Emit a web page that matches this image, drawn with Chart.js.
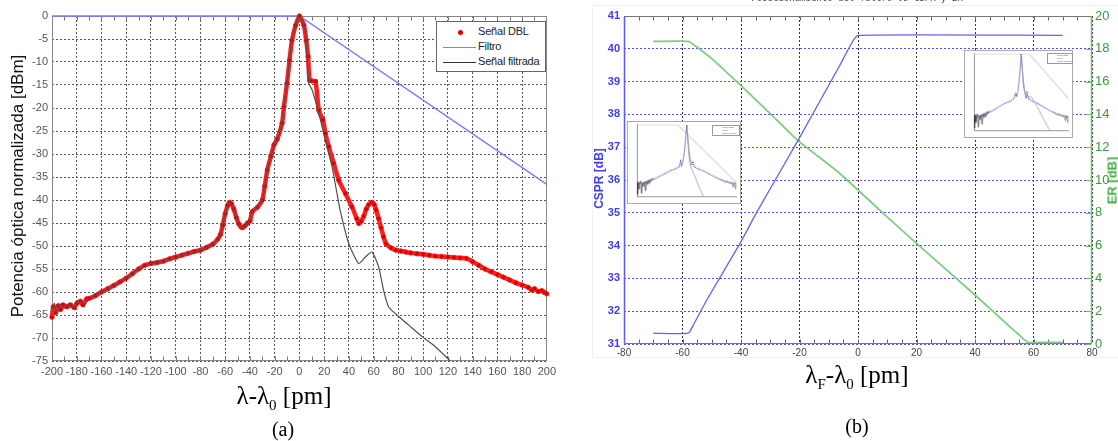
<!DOCTYPE html>
<html>
<head>
<meta charset="utf-8">
<script src="https://cdn.jsdelivr.net/npm/chart.js@4.4.1/dist/chart.umd.min.js"></script>
<style>
  body { margin: 0; width: 1118px; height: 441px; overflow: hidden; position: relative; background: #fff; font-family: Arial, "Liberation Sans", sans-serif; }
  .abs { position: absolute; }
  .serif { font-family: "Times New Roman", "Liberation Serif", serif; color: #000; white-space: nowrap; }
  .legA { left: 436px; top: 21px; width: 108px; height: 49px; border: 1px solid #666; background: #fff; font-size: 11px; color: #222; }
  .legA div { position: absolute; left: 41px; white-space: nowrap; letter-spacing: -0.2px; }
  .mini { border: 1px solid #aaa; background: #fff; }
  .miniLeg { border: 1px solid #999; background: #fff; overflow: hidden; }
  .miniLeg span { display: block; font-size: 7px; line-height: 8px; transform: scale(0.35); transform-origin: 0 0; white-space: nowrap; color: #555; margin-left: 9px; height: 3px; }
</style>
</head>
<body>
<canvas id="chartA" class="abs" style="left:0;top:0" width="560" height="385"></canvas>
<div class="abs" style="left:592px;top:5px;width:525px;height:351px;border:1px solid #f0f0f0;"></div>
<canvas id="chartB" class="abs" style="left:570px;top:0" width="548" height="365"></canvas>
<canvas id="inset1" class="abs mini" style="left:627px;top:121px" width="114" height="83"></canvas>
<canvas id="inset2" class="abs mini" style="left:964px;top:50px" width="109" height="88"></canvas>

<div class="abs miniLeg" style="left:712px;top:125px;width:26px;height:9px;"><span>Señal DBL</span><span>Filtro</span><span>Señal filtrada</span></div>
<div class="abs miniLeg" style="left:1047px;top:53px;width:24px;height:9px;"><span>Señal DBL</span><span>Filtro</span><span>Señal filtrada</span></div>

<div class="abs legA">
  <span class="abs" style="left:21px;top:8px;width:5px;height:5px;border-radius:50%;background:#e00000;"></span>
  <div style="top:3px;">Señal DBL</div>
  <span class="abs" style="left:6px;top:25px;width:33px;height:1px;background:#8080ff;"></span>
  <div style="top:18px;">Filtro</div>
  <span class="abs" style="left:6px;top:40px;width:33px;height:1px;background:#333;"></span>
  <div style="top:33px;">Señal filtrada</div>
</div>

<div class="abs" style="left:-182px;top:177px;width:400px;text-align:center;font-size:17px;line-height:18px;color:#111;transform:rotate(-90deg);">Potencia óptica normalizada [dBm]</div>
<div class="abs serif" style="left:184px;top:383px;width:200px;text-align:center;font-size:25px;line-height:26px;">λ-λ<sub style="font-size:15px;">0</sub> [pm]</div>
<div class="abs serif" style="left:233px;top:419px;width:100px;text-align:center;font-size:20px;line-height:21px;">(a)</div>

<div class="abs" style="left:732px;top:-7px;width:250px;text-align:center;font-family:'DejaVu Sans Mono',monospace;font-size:9px;color:#444;white-space:nowrap;">Posicionamiento del filtro vs CSPR y ER</div>
<div class="abs" style="left:549px;top:172px;width:100px;text-align:center;font-size:12px;font-weight:bold;line-height:13px;color:#4040f0;transform:rotate(-90deg);">CSPR [dB]</div>
<div class="abs" style="left:1062px;top:174px;width:100px;text-align:center;font-size:13px;font-weight:bold;line-height:13px;color:#3fa83f;transform:rotate(-90deg);">ER [dB]</div>
<div class="abs serif" style="left:737px;top:362px;width:240px;text-align:center;font-size:25px;line-height:26px;">λ<sub style="font-size:15px;">F</sub>-λ<sub style="font-size:15px;">0</sub> [pm]</div>
<div class="abs serif" style="left:807px;top:416px;width:100px;text-align:center;font-size:20px;line-height:21px;">(b)</div>

<script>
// ---- panel (a): espectro DBL ----
const xTicksA = [-200, -180, -160, -140, -120, -100, -80, -60, -40, -20, 0, 20, 40, 60, 80, 100, 120, 140, 160, 180, 200];
const yTicksA = [-75, -70, -65, -60, -55, -50, -45, -40, -35, -30, -25, -20, -15, -10, -5, 0];

const dblX = [-200, -199, -197, -195, -193, -191, -188, -185, -182, -180, -177, -175, -172, -170, -165, -160, -155, -150, -145, -140,
  -135, -130, -125, -120, -115, -110, -105, -100, -95, -90, -85, -80, -75, -70, -66, -64, -62, -60, -58, -56.5, -55, -53, -51, -49,
  -47, -46, -44, -42, -40, -38, -34, -30, -28, -26, -23, -20.5, -18, -14, -12.5, -10, -8, -6, -3, 0,
  3.6, 5.5, 7, 8.2, 10, 13, 15.7, 19, 21, 23.7, 27.7, 31.8, 37.2, 42.5, 46.3, 48, 50, 52, 54, 56, 58.6, 60.5, 62, 64, 66, 68, 70,
  74, 78, 82, 86, 90, 95, 100, 105, 110, 115, 120, 125, 130, 135, 140, 145, 150, 155, 160, 165, 170, 175, 180, 185, 188, 190, 193, 196, 198, 200];
const dblY = [-65.5, -63.2, -64.5, -63, -63.8, -62.8, -63.2, -62.8, -63.4, -62.5, -62, -62.8, -61.5, -61.4, -60.8, -60, -59.3, -58.6, -57.8, -57,
  -56, -55, -54.2, -53.8, -53.6, -53.3, -52.8, -52.4, -52, -51.6, -51.2, -50.9, -50.3, -49.6, -48.5, -47.6, -45.5, -43, -41.2, -40.5, -40.8, -42, -43.8, -45.2,
  -45.9, -46, -45.6, -45, -44.6, -42.5, -41.6, -40, -37, -33.5, -30.5, -28, -26.8, -23.3, -19.7, -14.6, -9.6, -5.3, -2, 0,
  -2, -5.3, -8.8, -14, -14.1, -14.2, -20.5, -22.6, -25.5, -28.4, -32, -35.7, -38.6, -41.5, -44, -45.1, -44.6, -43.5, -42, -41, -40.5, -41, -42.2, -44, -46, -48, -49.5,
  -50.4, -50.9, -51.1, -51.3, -51.5, -51.7, -51.8, -52, -52.2, -52.3, -52.4, -52.5, -52.6, -52.7, -53.4, -54.2, -55, -55.6, -56.2, -56.8, -57.4, -58, -58.5, -59, -59.6, -59.3, -59.9, -59.7, -60.1, -60.4];

const filtX = [-200, -198, -196, -193, -190, -186, -182, -178, -174, -170, -160, -150, -140, -130, -120, -110, -100, -90, -80, -70, -64, -60, -57, -53, -49, -46,
  -42, -38, -34, -30, -26, -23, -20.5, -18, -14, -12.5, -10, -8, -6, -3, 0, 3.6, 5.5, 7.6, 10.3, 15.7, 21, 26.4, 30.4, 33.2, 39.8, 47.9, 53.3, 58.6,
  64, 68, 72, 78.8, 88.4, 99.2, 109.9, 122];
const filtY = [-64, -62.5, -64.8, -62.6, -63.5, -62.4, -63.2, -61.8, -62.6, -61.5, -60, -58.6, -57, -55, -53.8, -53.3, -52.4, -51.6, -50.9, -49.6, -47.8, -43, -40.6, -42, -45.2, -46,
  -45, -42.5, -41.6, -40, -33.5, -30.5, -28, -26.8, -23.3, -19.7, -14.6, -9.6, -5.3, -2, 0, -2, -5.3, -14.6, -16.1, -21.2, -27, -32.8, -38.6, -42.6, -49.4, -53.8, -52.4, -51.3,
  -54.5, -59.6, -63.2, -65, -67.2, -69.7, -71.9, -75];

const filtroX = [-200, 0, 200];
const filtroY = [0, 0, -36.6];

// ---- panel (b): CSPR y ER frente a la posición del filtro ----
const xTicksB = [-80, -60, -40, -20, 0, 20, 40, 60, 80];
const yTicksB = [31, 32, 33, 34, 35, 36, 37, 38, 39, 40, 41];
const y1TicksB = [0, 2, 4, 6, 8, 10, 12, 14, 16, 18, 20];

const csprX = [-70, -58, -56.3, -51.7, -40, -34.6, -20.5, -6.2, -2, 0, 70];
const csprY = [31.33, 31.33, 31.58, 32.34, 34.12, 35.02, 37.21, 39.5, 40.2, 40.41, 40.41];

const erX = [-70, -58, -55, -50, -40, -30, -20.5, -6.2, 7.5, 20, 40, 58, 60, 70];
const erY = [18.45, 18.45, 18.1, 17.4, 15.75, 14.05, 12.4, 10.4, 8.15, 6.14, 2.99, 0.1, 0.1, 0.1];

// ---- insets ----
const xTicksIn = [-300, -200, -100, 0, 100, 200, 300];
const yTicksIn = [-80, -70, -60, -50, -40, -30, -20, -10, 0];
const specInX = [-300, -275, -250, -225, -200, -175, -150, -125, -100, -75, -55, -45, -36, -30, -22, -14, -7, 0,
  7, 14, 22, 30, 36, 45, 55, 75, 100, 125, 150, 175, 200, 225, 250, 275, 300];
const specInY = [-66, -65.5, -64.5, -63, -61, -59, -56.5, -54, -51.5, -50, -48, -47, -41, -45, -40, -30, -16, 0,
  -16, -30, -40, -45, -41, -47, -48, -50, -51.5, -54, -56.5, -59, -61, -63, -64.5, -65.5, -66];
const noiseLX = [-300, -296, -292, -288, -284, -278, -272, -266, -260, -254, -248, -242, -236, -230, -224, -218, -212, -206, -200];
const noiseLY = [-65, -78, -64, -72, -66, -63, -77, -65, -69, -64, -74, -63, -67, -62, -66, -61, -63, -60, -61];
const noiseRX = [200, 215, 230, 245, 260, 270, 280, 288, 295, 300];
const noiseRY = [-61, -62, -64, -63, -66, -64, -70, -65, -72, -66];
const filtro1X = [-300, -55, 300];
const filtro1Y = [0, 0, -65];
const filtrada1X = [0, 8, 15, 25, 36, 50, 70, 100];
const filtrada1Y = [0, -22, -38, -48, -52, -58, -68, -80];
const filtro2X = [-300, 50, 300];
const filtro2Y = [0, 0, -47];
const filtrada2X = [0, 8, 15, 25, 40, 69, 100, 140, 180];
const filtrada2Y = [0, -22, -35, -42, -44, -46, -55, -68, -80];

function pts(xs, ys) {
    return xs.map((x, i) => ({x: x, y: ys[i]}));
}

function setTicks(values) {
    return scale => { scale.ticks = values.map(v => ({value: v})); };
}

// marco, ticks menores hacia dentro
function framePlugin(cfg) {
    return {
        id: 'frame',
        beforeDatasetsDraw(chart) {
            const {ctx, chartArea: a} = chart;
            const xs = chart.scales.x;
            ctx.save();
            ctx.lineWidth = 1;
            const line = (color, x1, y1, x2, y2) => {
                ctx.strokeStyle = color;
                ctx.beginPath();
                ctx.moveTo(x1, y1);
                ctx.lineTo(x2, y2);
                ctx.stroke();
            };
            const L = Math.round(a.left) + 0.5, R = Math.round(a.right) - 0.5;
            const T = Math.round(a.top) + 0.5, B = Math.round(a.bottom) - 0.5;
            if (cfg.minorX) {
                for (let v = xs.min + cfg.minorX; v < xs.max; v += cfg.minorX) {
                    const px = Math.round(xs.getPixelForValue(v)) + 0.5;
                    line(cfg.tickColor, px, T, px, T + cfg.tickLen);
                    line(cfg.tickColor, px, B, px, B - cfg.tickLen);
                }
            }
            if (cfg.rightTicks) {
                const ys = chart.scales.y1;
                cfg.rightTicks.forEach(v => {
                    const py = Math.round(ys.getPixelForValue(v)) + 0.5;
                    line(cfg.right, R, py, R - 6, py);
                });
            }
            line(cfg.top, L, T, R, T);
            line(cfg.bottom, L, B, R, B);
            ctx.lineWidth = cfg.sideWidth || 1;
            line(cfg.left, L, T, L, B);
            line(cfg.right, R, T, R, B);
            ctx.restore();
        }
    };
}

new Chart(document.getElementById('chartA'), {
    type: 'scatter',
    data: {
        datasets: [{
            label: 'Señal filtrada',
            data: pts(filtX, filtY),
            showLine: true,
            borderColor: '#505050',
            borderWidth: 1.2,
            pointRadius: 0,
            tension: 0.2
        }, {
            label: 'Señal DBL',
            data: pts(dblX, dblY),
            showLine: true,
            borderColor: '#ff1e1e',
            borderWidth: 4.5,
            pointRadius: 2.2,
            pointBackgroundColor: '#d40000',
            pointBorderColor: '#ff2020',
            pointBorderWidth: 0.8,
            tension: 0.2,
            clip: 4
        }, {
            label: 'Filtro',
            data: pts(filtroX, filtroY),
            showLine: true,
            borderColor: '#7a7aff',
            borderWidth: 1.3,
            pointRadius: 0,
            clip: 2
        }]
    },
    options: {
        responsive: false,
        animation: false,
        layout: {padding: {top: 16, right: 11, left: 0, bottom: 0}},
        plugins: {legend: {display: false}, tooltip: {enabled: false}},
        scales: {
            x: {
                type: 'linear', min: -200, max: 200,
                afterBuildTicks: setTicks(xTicksA),
                afterFit: s => { s.height = 24; },
                ticks: {color: '#555', font: {size: 11, family: 'Arial'}, padding: 4, maxRotation: 0, autoSkip: false},
                grid: {color: '#555', drawTicks: false},
                border: {display: false, dash: [2, 2]}
            },
            y: {
                min: -75, max: 0,
                afterBuildTicks: setTicks(yTicksA),
                afterFit: s => { s.width = 52; },
                ticks: {color: '#555', font: {size: 11, family: 'Arial'}, padding: 4, autoSkip: false},
                grid: {color: '#555', drawTicks: false},
                border: {display: false, dash: [2, 2]}
            }
        }
    },
    plugins: [framePlugin({top: '#888', bottom: '#888', left: '#888', right: '#888', minorX: 10, tickLen: 4, tickColor: '#777'})]
});

new Chart(document.getElementById('chartB'), {
    type: 'scatter',
    data: {
        datasets: [{
            label: 'CSPR',
            data: pts(csprX, csprY),
            yAxisID: 'y',
            showLine: true,
            borderColor: '#6262ff',
            borderWidth: 1.3,
            pointRadius: 0,
            tension: 0.15
        }, {
            label: 'ER',
            data: pts(erX, erY),
            yAxisID: 'y1',
            showLine: true,
            borderColor: '#80cc80',
            borderWidth: 1.8,
            pointRadius: 0,
            tension: 0.15
        }]
    },
    options: {
        responsive: false,
        animation: false,
        layout: {padding: {top: 16, right: 0, left: 0, bottom: 0}},
        plugins: {legend: {display: false}, tooltip: {enabled: false}},
        scales: {
            x: {
                type: 'linear', min: -80, max: 80,
                afterBuildTicks: setTicks(xTicksB),
                afterFit: s => { s.height = 21; },
                ticks: {color: '#444', font: {size: 10, family: 'Arial'}, padding: 3, maxRotation: 0, autoSkip: false},
                grid: {color: '#333', drawTicks: false},
                border: {display: false, dash: [2, 2]}
            },
            y: {
                position: 'left', min: 31, max: 41,
                afterBuildTicks: setTicks(yTicksB),
                afterFit: s => { s.width = 54; },
                ticks: {color: '#3c3cf0', font: {size: 11, family: 'Arial', weight: 'bold'}, padding: 4, autoSkip: false},
                grid: {color: '#4d4dff', drawTicks: false},
                border: {display: false, dash: [2, 2]}
            },
            y1: {
                position: 'right', min: 0, max: 20,
                afterBuildTicks: setTicks(y1TicksB),
                afterFit: s => { s.width = 26; },
                ticks: {color: '#3a9a3a', font: {size: 13, family: 'Arial'}, padding: 3, autoSkip: false},
                grid: {display: false, drawTicks: false},
                border: {display: false}
            }
        }
    },
    plugins: [framePlugin({top: '#777', bottom: '#777', left: '#5a5aff', right: '#6cc06c', sideWidth: 1.5, minorX: 5, tickLen: 4, tickColor: '#666', rightTicks: y1TicksB})]
});

function inset(id, filtroXs, filtroYs, filtradaXs, filtradaYs) {
    new Chart(document.getElementById(id), {
        type: 'scatter',
        data: {
            datasets: [{
                data: pts(filtradaXs, filtradaYs), showLine: true, borderColor: '#9a9a9a', borderWidth: 0.8, pointRadius: 0
            }, {
                data: pts(specInX, specInY), showLine: true, borderColor: '#4848b4', borderWidth: 1.3, borderDash: [1, 1], pointRadius: 0
            }, {
                data: pts(noiseLX, noiseLY), showLine: true, borderColor: '#333', borderWidth: 0.7, pointRadius: 0
            }, {
                data: pts(noiseRX, noiseRY), showLine: true, borderColor: '#555', borderWidth: 0.6, pointRadius: 0
            }, {
                data: pts(filtroXs, filtroYs), showLine: true, borderColor: '#cfa0a8', borderWidth: 0.8, pointRadius: 0
            }]
        },
        options: {
            responsive: false,
            animation: false,
            layout: {padding: {top: 2, right: 3, left: 0, bottom: 0}},
            plugins: {legend: {display: false}, tooltip: {enabled: false}},
            scales: {
                x: {
                    type: 'linear', min: -300, max: 300,
                    afterBuildTicks: setTicks(xTicksIn),
                    afterFit: s => { s.height = 7; },
                    ticks: {color: '#999', font: {size: 3}, padding: 1, maxRotation: 0, autoSkip: false},
                    grid: {display: false},
                    border: {color: '#999'}
                },
                y: {
                    min: -80, max: 0,
                    afterBuildTicks: setTicks(yTicksIn),
                    afterFit: s => { s.width = 9; },
                    ticks: {color: '#999', font: {size: 3}, padding: 1, autoSkip: false},
                    grid: {display: false},
                    border: {color: '#999'}
                }
            }
        }
    });
}

inset('inset1', filtro1X, filtro1Y, filtrada1X, filtrada1Y);
inset('inset2', filtro2X, filtro2Y, filtrada2X, filtrada2Y);
</script>
</body>
</html>
